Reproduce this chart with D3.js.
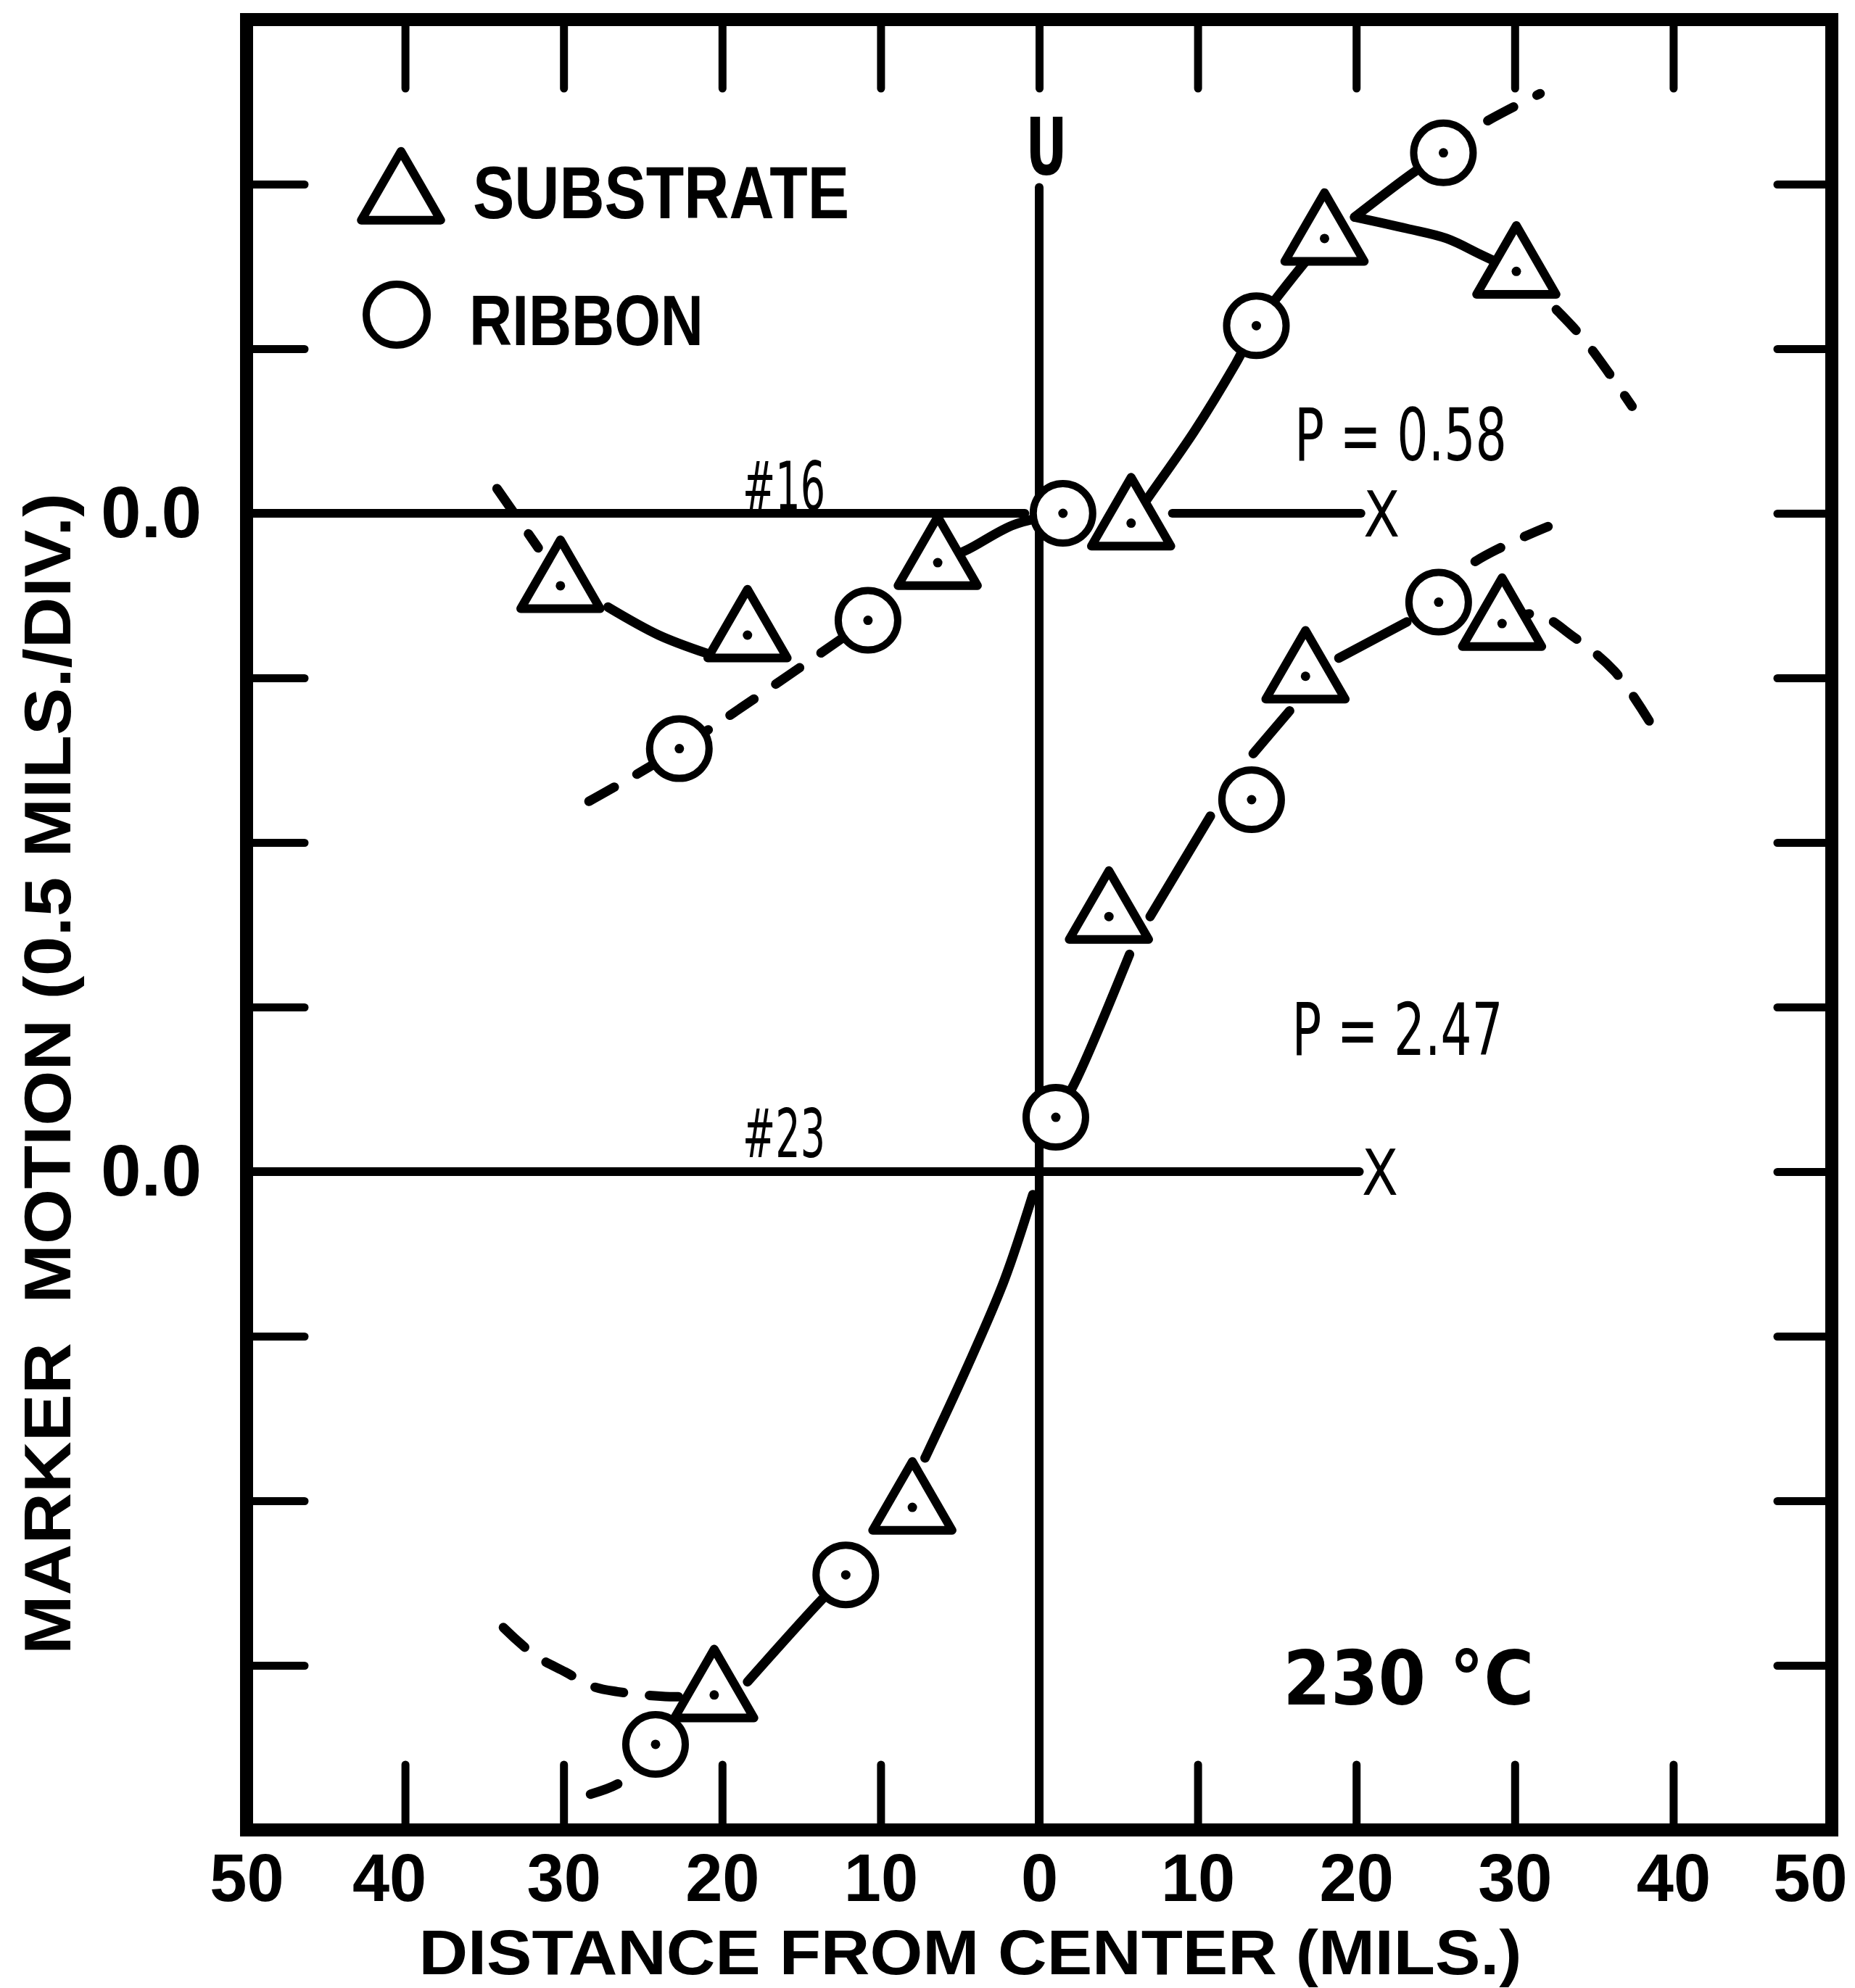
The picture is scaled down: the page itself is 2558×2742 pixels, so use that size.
<!DOCTYPE html>
<html>
<head>
<meta charset="utf-8">
<script src="https://cdn.jsdelivr.net/npm/d3@7"></script>
<style>
  html, body { margin: 0; padding: 0; background: #fff; }
  svg { display: block; }
</style>
</head>
<body>
<svg id="chart" width="2558" height="2742"></svg>
<script>
// --- Axis values
const xTicks = [-50, -40, -30, -20, -10, 0, 10, 20, 30, 40, 50];   // mils from center
const innerXTicks = [-40, -30, -20, -10, 0, 10, 20, 30, 40];
const yDivTicks = [-3, -2, -1, 0, 1, 2, 3, 4, 5, 6];                // 0.5 mil divisions
const zeroDivs = [0, 4];                                            // "0.0" rows (#23, #16)
const OFFSET_16 = 4;                                                // #16 zero sits 4 divs above #23

// --- Sample #16 (P = 0.58): [distance, divisions from its own zero]
const substrate16 = [[-30.2, -0.44], [-18.4, -0.74], [-6.4, -0.30], [5.8, -0.06], [18.0, 1.67], [30.1, 1.47]];
const ribbon16 = [[-22.7, -1.43], [-10.8, -0.65], [1.5, 0.0], [13.7, 1.14], [25.5, 2.19]];

const solid16 = [
  [[-27.2, -0.57], [-24.0, -0.74], [-21.0, -0.85]],
  [[-6.4, -0.30], [-4.5, -0.22], [-1.6, -0.07], [1.5, 0.0]],
  [[5.8, -0.06], [6.7, 0.07], [9.8, 0.50], [12.4, 0.91], [13.7, 1.14], [18.0, 1.67]],
  [[19.9, 1.80], [23.6, 2.07], [25.5, 2.19]],
  [[19.9, 1.80], [23.2, 1.73], [25.7, 1.67], [27.9, 1.57], [30.1, 1.47]]
];
const dashed16 = [
  [[-34.2, 0.15], [-31.6, -0.21]],
  [[-28.4, -1.75], [-22.7, -1.43], [-10.8, -0.65]],
  [[25.5, 2.19], [27.5, 2.34], [31.6, 2.55]],
  [[30.1, 1.47], [32.8, 1.22], [34.5, 1.04], [37.4, 0.65]]
];

// --- Sample #23 (P = 2.47)
const substrate23 = [[-20.5, -3.18], [-8.0, -2.04], [4.4, 1.55], [16.8, 3.01], [29.2, 3.33]];
const ribbon23 = [[-24.2, -3.48], [-12.2, -2.45], [1.05, 0.33], [13.4, 2.26], [25.2, 3.46]];

const solid23 = [
  [[-0.4, -0.14], [-2.2, -0.66], [-4.6, -1.20], [-7.2, -1.74]],
  [[-12.2, -2.45], [-14.1, -2.64], [-18.4, -3.10]],
  [[1.05, 0.33], [2.4, 0.57], [5.7, 1.32]],
  [[7.0, 1.55], [10.8, 2.16]],
  [[13.5, 2.54], [15.8, 2.80]],
  [[18.9, 3.12], [23.2, 3.34]]
];
const dashed23 = [
  [[25.2, 3.46], [27.1, 3.68], [32.1, 3.92]],
  [[29.2, 3.33], [31.3, 3.39], [33.7, 3.25], [36.3, 3.04], [38.6, 2.72]],
  [[-24.2, -3.48], [-26.4, -3.71], [-29.0, -3.80]],
  [[-33.8, -2.77], [-31.8, -2.94], [-29.9, -3.04], [-28.1, -3.13], [-26.6, -3.16], [-23.3, -3.19], [-20.5, -3.18]]
];

// zero reference lines: [from, to] in mils
const zeroLine16 = [[-50, -0.9], [8.4, 20.3]];
const zeroLine23 = [[-50, 20.2]];

// --- Layout
const plot = { left: 340, right: 2526, top: 27, bottom: 2524 };
const BOLD = "'Liberation Sans', Arial, sans-serif";
const THIN = "'DejaVu Sans Condensed', 'DejaVu Sans', sans-serif";

const svg = d3.select("#chart");
svg.append("rect").attr("width", 2558).attr("height", 2742).attr("fill", "#fff");

const x = d3.scaleLinear().domain([-50, 50]).range([plot.left, plot.right]);
const y = d3.scaleLinear().domain([-4, 7]).range([plot.bottom, plot.top]);

const lift = pts => pts.map(([d, v]) => [d, v + OFFSET_16]);
const substrate = [...lift(substrate16), ...substrate23];
const ribbon = [...lift(ribbon16), ...ribbon23];
const solidPaths = [...solid16.map(lift), ...solid23];
const dashedPaths = [...dashed16.map(lift), ...dashed23];

function styleAxis(g, fontSize) {
  g.select(".domain").remove();
  g.selectAll(".tick line").attr("stroke", "#000").attr("stroke-width", 11).attr("stroke-linecap", "round");
  g.attr("font-family", BOLD).attr("font-weight", "bold").attr("font-size", fontSize);
  g.selectAll(".tick text").attr("fill", "#000");
}

// --- Axes (ticks point inward)
svg.append("g").attr("transform", `translate(0,${plot.bottom})`)
  .call(d3.axisBottom(x).tickValues(xTicks).tickSizeInner(-90).tickSizeOuter(0)
    .tickPadding(33).tickFormat(d => Math.abs(d)))
  .call(g => styleAxis(g, 92))
  .call(g => g.selectAll(".tick text").attr("dx", d => d === 50 ? -30 : d === -40 ? -22 : 0));

svg.append("g").attr("transform", `translate(0,${plot.top})`)
  .call(d3.axisTop(x).tickValues(innerXTicks).tickSizeInner(-95).tickSizeOuter(0).tickFormat(""))
  .call(g => styleAxis(g, 10));

svg.append("g").attr("transform", `translate(${plot.left},0)`)
  .call(d3.axisLeft(y).tickValues(yDivTicks).tickSizeInner(-80).tickSizeOuter(0)
    .tickPadding(62).tickFormat(d => zeroDivs.includes(d) ? "0.0" : ""))
  .call(g => styleAxis(g, 100));

svg.append("g").attr("transform", `translate(${plot.right},0)`)
  .call(d3.axisRight(y).tickValues(yDivTicks).tickSizeInner(-75).tickSizeOuter(0).tickFormat(""))
  .call(g => styleAxis(g, 10));

// frame
svg.append("rect")
  .attr("x", x(-50)).attr("y", y(7))
  .attr("width", x(50) - x(-50)).attr("height", y(-4) - y(7))
  .attr("fill", "none").attr("stroke", "#000").attr("stroke-width", 18);

// --- Reference lines
const refs = svg.append("g").attr("stroke", "#000").attr("stroke-width", 12).attr("stroke-linecap", "round");
zeroLine16.forEach(([a, b]) => refs.append("line")
  .attr("x1", x(a)).attr("x2", x(b)).attr("y1", y(OFFSET_16)).attr("y2", y(OFFSET_16)));
zeroLine23.forEach(([a, b]) => refs.append("line")
  .attr("x1", x(a)).attr("x2", x(b)).attr("y1", y(0)).attr("y2", y(0)));
refs.append("line").attr("x1", x(0)).attr("x2", x(0)).attr("y1", y(5.98)).attr("y2", y(-4));

// --- Curves
const line = d3.line().x(d => x(d[0])).y(d => y(d[1])).curve(d3.curveCatmullRom.alpha(0.5));
svg.append("g").selectAll("path").data(solidPaths).join("path")
  .attr("d", line).attr("fill", "none").attr("stroke", "#000")
  .attr("stroke-width", 13).attr("stroke-linecap", "round");
svg.append("g").selectAll("path").data(dashedPaths).join("path")
  .attr("d", line).attr("fill", "none").attr("stroke", "#000")
  .attr("stroke-width", 13).attr("stroke-linecap", "round").attr("stroke-dasharray", "40,36");

// --- Markers
const tri = d3.symbol(d3.symbolTriangle, 5200);
svg.append("g").selectAll("path").data(substrate).join("path")
  .attr("transform", d => `translate(${x(d[0])},${y(d[1])})`)
  .attr("d", tri).attr("fill", "#fff").attr("stroke", "#000")
  .attr("stroke-width", 12).attr("stroke-linejoin", "round");
svg.append("g").selectAll("circle").data(ribbon).join("circle")
  .attr("cx", d => x(d[0])).attr("cy", d => y(d[1])).attr("r", 41)
  .attr("fill", "#fff").attr("stroke", "#000").attr("stroke-width", 10);
svg.append("g").selectAll("circle").data([...substrate, ...ribbon]).join("circle")
  .attr("cx", d => x(d[0])).attr("cy", d => y(d[1])).attr("r", 6.5).attr("fill", "#000");

// --- Legend
const legend = svg.append("g");
legend.append("path").attr("transform", "translate(553,272)").attr("d", tri)
  .attr("fill", "#fff").attr("stroke", "#000").attr("stroke-width", 12).attr("stroke-linejoin", "round");
legend.append("circle").attr("cx", 547).attr("cy", 434).attr("r", 42)
  .attr("fill", "#fff").attr("stroke", "#000").attr("stroke-width", 10);
legend.append("text").attr("x", 652).attr("y", 301).text("SUBSTRATE")
  .attr("font-family", BOLD).attr("font-weight", "bold").attr("font-size", 102)
  .attr("textLength", 519).attr("lengthAdjust", "spacingAndGlyphs");
legend.append("text").attr("x", 647).attr("y", 476).text("RIBBON")
  .attr("font-family", BOLD).attr("font-weight", "bold").attr("font-size", 98)
  .attr("textLength", 323).attr("lengthAdjust", "spacingAndGlyphs");

// --- Annotations
function note(text, px, py, size, len, family, weight) {
  const t = svg.append("text").attr("x", px).attr("y", py).text(text)
    .attr("text-anchor", "middle").attr("font-family", family)
    .attr("font-weight", weight || "normal").attr("font-size", size);
  if (len) t.attr("textLength", len).attr("lengthAdjust", "spacingAndGlyphs");
  return t;
}
note("U", x(0) + 10, y(6.06), 108, 57, THIN, "bold");
note("#16", x(-16.1), y(OFFSET_16 + 0.02), 92, 114, THIN);
note("#23", x(-16.1), y(0.09), 92, 114, THIN);
note("X", x(21.6), y(OFFSET_16) + 32, 88, 50, THIN);
note("X", x(21.5), y(0) + 32, 88, 50, THIN);
note("P = 0.58", x(22.8), y(4.32), 100, 293, THIN);
note("P = 2.47", x(22.6), y(0.71), 100, 291, THIN);
note("230 °C", x(23.3), y(-3.24), 104, 346, "'DejaVu Sans', sans-serif", "bold");

// --- Axis titles
svg.append("text")
  .attr("transform", "translate(97,1481) rotate(-90)")
  .attr("text-anchor", "middle").style("white-space", "pre")
  .attr("font-family", BOLD).attr("font-weight", "bold").attr("font-size", 91)
  .attr("textLength", 1602).attr("lengthAdjust", "spacingAndGlyphs")
  .text("MARKER  MOTION (0.5 MILS./DIV.)");
svg.append("text")
  .attr("x", 1338).attr("y", 2723).attr("text-anchor", "middle")
  .attr("font-family", BOLD).attr("font-weight", "bold").attr("font-size", 88)
  .attr("textLength", 1521).attr("lengthAdjust", "spacingAndGlyphs")
  .text("DISTANCE FROM CENTER (MILS.)");
</script>
</body>
</html>
